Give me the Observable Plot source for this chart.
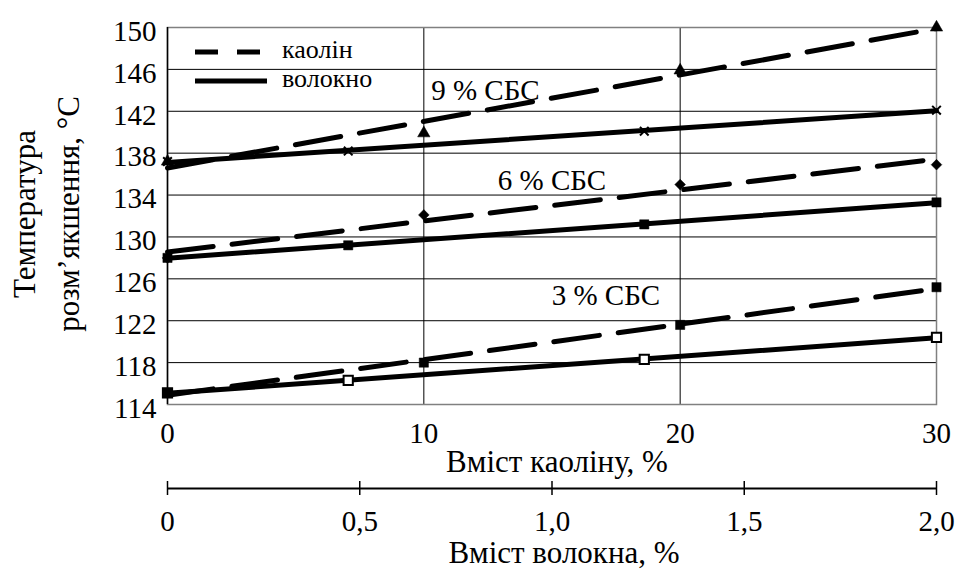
<!DOCTYPE html>
<html><head><meta charset="utf-8">
<script src="https://cdn.jsdelivr.net/npm/d3@7"></script>
<script src="https://cdn.jsdelivr.net/npm/@observablehq/plot@0.6"></script>
<style>body{margin:0;background:#fff} #chart svg{display:block}</style>
</head><body><div id="chart"></div>
<script>
// ---- data ----
const kaolin = [0, 10, 20, 30];            // % kaolin
const fiber = [0, 0.47, 1.24, 2.0];        // % fiber
const kaolin9 = [137.2, 139.9, 145.9, 150.0];
const fiber9  = [137.2, 138.2, 140.1, 142.1];
const kaolin6 = [128.0, 132.1, 135.0, 136.9];
const fiber6  = [128.0, 129.2, 131.2, 133.3];
const kaolin3 = [115.1, 118.0, 121.6, 125.2];
const fiber3  = [115.1, 116.3, 118.3, 120.4];
const yTicks = [114, 118, 122, 126, 130, 134, 138, 142, 146, 150];
const kaolinTicks = [0, 10, 20, 30];
const fiberTicks = [0, 0.5, 1.0, 1.5, 2.0];
const groupLabels = ["9 % СБС", "6 % СБС", "3 % СБС"];
const labelX = [12.4, 15.0, 17.1];
const labelY = [144.0, 135.4, 124.4];
const legendLabels = ["каолін", "волокно"];
const xTitle1 = "Вміст каоліну, %";
const xTitle2 = "Вміст волокна, %";
const yTitle = "Температура\nрозм’якшення, °С";

const FONT = '"Liberation Serif", "Times New Roman", serif';
const TICK = 29, TITLE = 31, LEG = 26;
const fiberToKaolin = d3.max(kaolinTicks) / d3.max(fiberTicks);

const rows = [];
function addSeries(name, kind, xs, ys, symbol, fill) {
  xs.forEach((x, i) => rows.push({series: name, kind, x: kind === "fiber" ? x * fiberToKaolin : x, y: ys[i], symbol, fill}));
}
addSeries("f9", "fiber", fiber, fiber9, "times", "none");
addSeries("k9", "kaolin", kaolin, kaolin9, "triangle", "#000");
addSeries("k6", "kaolin", kaolin, kaolin6, "diamond2", "#000");
addSeries("f6", "fiber", fiber, fiber6, "square", "#000");
addSeries("f3", "fiber", fiber, fiber3, "square", "#fff");
addSeries("k3", "kaolin", kaolin, kaolin3, "square", "#000");

const kRows = rows.filter(d => d.kind === "kaolin");
const fRows = rows.filter(d => d.kind === "fiber");
const symSize = {triangle: 4.6, diamond2: 4.8, square: 5.2, times: 4};
const labels = groupLabels.map((t, i) => ({t, x: labelX[i], y: labelY[i]}));

const baseStyle = {fontFamily: FONT, fontSize: TICK + "px", color: "#000", background: "#fff"};

const main = Plot.plot({
  width: 960, height: 480,
  marginLeft: 167, marginRight: 24, marginTop: 27, marginBottom: 76,
  style: baseStyle,
  x: {domain: [0, 30]},
  y: {domain: [114, 150]},
  marks: [
    Plot.gridY(yTicks, {stroke: "#000", strokeOpacity: 1, strokeWidth: 1}),
    Plot.gridX(kaolinTicks, {stroke: "#000", strokeOpacity: 1, strokeWidth: 1}),
    Plot.frame({stroke: "#808080", strokeWidth: 1.5}),
    Plot.ruleX([0], {stroke: "#000", strokeWidth: 1.5}),
    Plot.axisY(yTicks, {tickSize: 0, tickPadding: 11, dy: 4, label: null, fontFamily: FONT, fontSize: TICK}),
    Plot.axisX(kaolinTicks, {tickSize: 0, tickPadding: 18, label: null, fontFamily: FONT, fontSize: TICK}),
    Plot.linearRegressionY(kRows, {x: "x", y: "y", z: "series", ci: 0, stroke: "#000", strokeWidth: 5, strokeDasharray: "46,19"}),
    Plot.linearRegressionY(fRows, {x: "x", y: "y", z: "series", ci: 0, stroke: "#000", strokeWidth: 5}),
    ...["f9", "k9", "k6", "f6", "f3", "k3"].map(s => {
      const data = rows.filter(d => d.series === s);
      const sym = data[0].symbol;
      return Plot.dot(data, {x: "x", y: "y", symbol: () => sym, r: symSize[sym],
        fill: sym === "times" ? "none" : data[0].fill,
        stroke: "#000", strokeWidth: sym === "times" ? 2 : (data[0].fill === "#fff" ? 2 : 0.5)});
    }),
    Plot.text(labels, {x: "x", y: "y", text: "t", fill: "#000", fontFamily: FONT, fontSize: TICK}),
    Plot.text([xTitle1], {frameAnchor: "bottom", lineAnchor: "middle", dy: 58, dx: 5, fill: "#000", fontFamily: FONT, fontSize: TITLE}),
    Plot.text([yTitle], {frameAnchor: "left", rotate: -90, dx: -125, dy: -2, lineHeight: 1.43, textAnchor: "middle", lineAnchor: "middle", fill: "#000", fontFamily: FONT, fontSize: TITLE})
  ]
});

// legend inside the plot area
const svg = d3.select(main);
const lg = svg.append("g");
legendLabels.forEach((lab, i) => {
  const yy = 52 + i * 29;
  lg.append("line").attr("x1", 195).attr("x2", i === 0 ? 260 : 267).attr("y1", yy).attr("y2", yy)
    .attr("stroke", "#000").attr("stroke-width", 5).attr("stroke-dasharray", i === 0 ? "23,19" : null);
  lg.append("text").attr("x", 282).attr("y", yy).attr("dy", "0.22em")
    .attr("text-anchor", "start")
    .style("font-family", FONT).style("font-size", LEG + "px").attr("fill", "#000").text(lab);
});

const fiberPlot = Plot.plot({
  width: 960, height: 90,
  marginLeft: 167, marginRight: 24, marginTop: 1, marginBottom: 75,
  style: baseStyle,
  x: {domain: [0, 2]},
  y: {domain: [0, 1], axis: null},
  marks: [
    Plot.ruleY([0.5], {stroke: "#000", strokeWidth: 2}),
    Plot.tickX(fiberTicks, {x: d => d, stroke: "#000", strokeWidth: 1.5}),
    Plot.axisX(fiberTicks, {tickSize: 0, tickPadding: 15, label: null, fontFamily: FONT, fontSize: TICK,
      tickFormat: d => d === 0 ? "0" : d.toFixed(1).replace(".", ",")}),
    Plot.text([xTitle2], {frameAnchor: "bottom", lineAnchor: "middle", dy: 58, dx: 12, fill: "#000", fontFamily: FONT, fontSize: TITLE})
  ]
});

const chart = document.getElementById("chart");
chart.append(main, fiberPlot);
</script>
</body></html>
